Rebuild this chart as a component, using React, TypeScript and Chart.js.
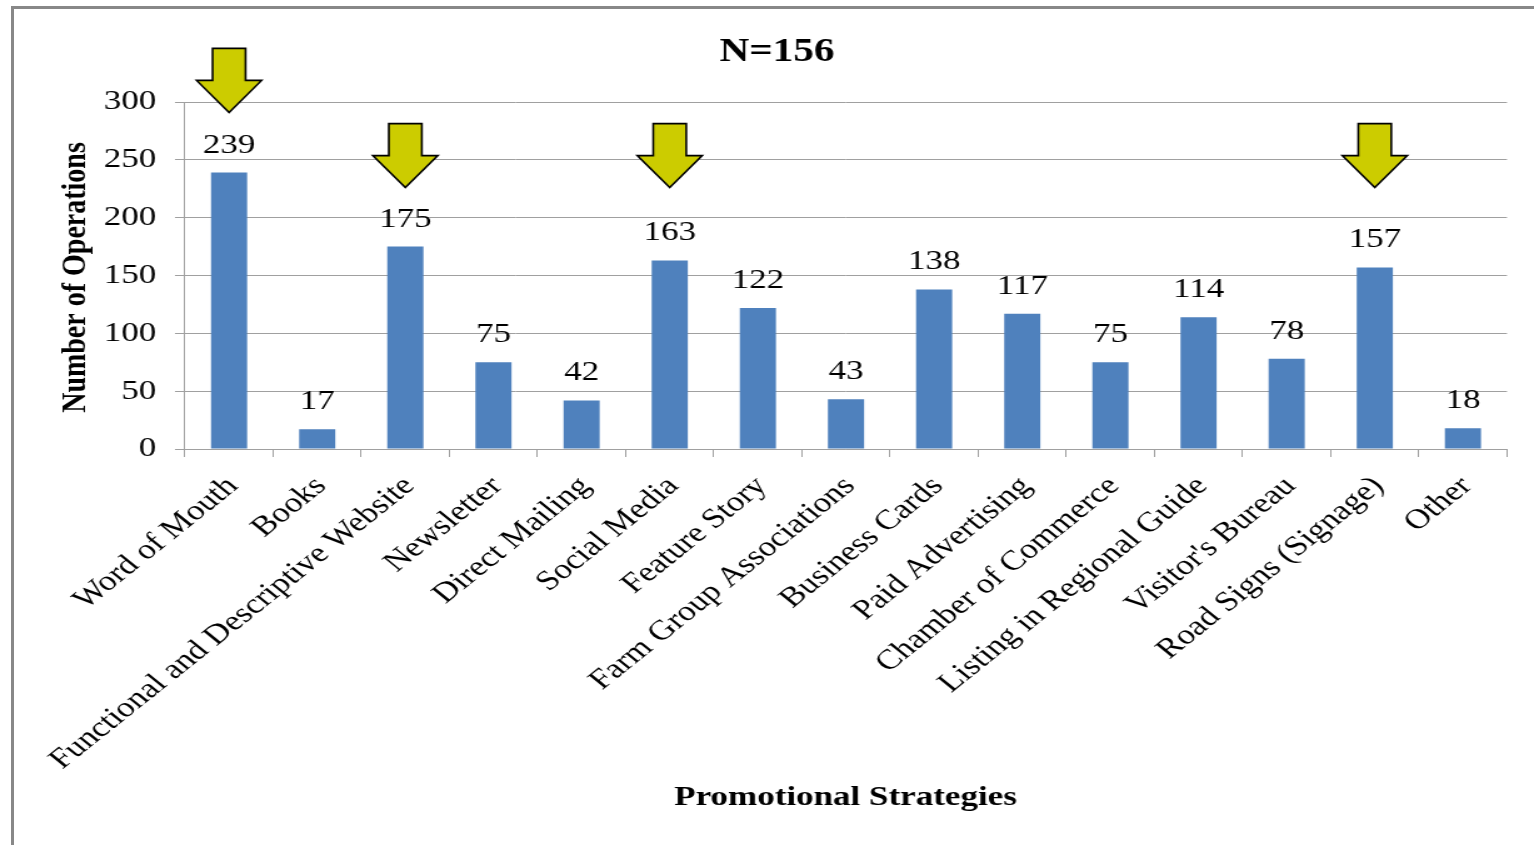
import React, { useEffect, useRef } from 'react';
import { Chart, registerables } from 'chart.js';

Chart.register(...registerables);

const categories = [
  'Word of Mouth',
  'Books',
  'Functional and Descriptive Website',
  'Newsletter',
  'Direct Mailing',
  'Social Media',
  'Feature Story',
  'Farm Group Associations',
  'Business Cards',
  'Paid Advertising',
  'Chamber of Commerce',
  'Listing in Regional Guide',
  "Visitor's Bureau",
  'Road Signs (Signage)',
  'Other',
];
const counts = [239, 17, 175, 75, 42, 163, 122, 43, 138, 117, 75, 114, 78, 157, 18];
const yTicks = [0, 50, 100, 150, 200, 250, 300];
const arrowCategories = ['Word of Mouth', 'Functional and Descriptive Website', 'Social Media', 'Road Signs (Signage)'];
const arrowTipValues = [291, 226, 226, 226];
const chartTitle = 'N=156';
const xTitle = 'Promotional Strategies';
const yTitle = 'Number of Operations';

const W = 1534;
const H = 845;
const CW = 1227;
const SX = W / CW;
const FONT = "'Liberation Serif', 'Times New Roman', Times, serif";
const GRID = '#a0a0a0';

export default function App() {
  const ref = useRef<HTMLCanvasElement>(null);

  useEffect(() => {
    const canvas = ref.current;
    if (!canvas) return;

    const overlay = {
      id: 'overlay',
      afterDatasetsDraw(chart: any) {
        const ctx = chart.ctx;
        const meta = chart.getDatasetMeta(0);
        const ys = chart.scales.y;
        const xs = chart.scales.x;
        ctx.save();
        ctx.fillStyle = '#000';
        ctx.font = `28px ${FONT}`;
        ctx.textAlign = 'center';
        ctx.textBaseline = 'alphabetic';
        meta.data.forEach((bar: any, i: number) => {
          ctx.fillText(String(counts[i]), bar.x, bar.y - 20);
        });
        arrowCategories.forEach((cat, k) => {
          const idx = categories.indexOf(cat);
          const cx = xs.getPixelForValue(idx);
          const tip = ys.getPixelForValue(arrowTipValues[k]);
          const headH = 32, shaftH = 32, headW = 26, shaftW = 13.2;
          ctx.beginPath();
          ctx.moveTo(cx, tip);
          ctx.lineTo(cx - headW, tip - headH);
          ctx.lineTo(cx - shaftW, tip - headH);
          ctx.lineTo(cx - shaftW, tip - headH - shaftH);
          ctx.lineTo(cx + shaftW, tip - headH - shaftH);
          ctx.lineTo(cx + shaftW, tip - headH);
          ctx.lineTo(cx + headW, tip - headH);
          ctx.closePath();
          ctx.fillStyle = '#CCCC00';
          ctx.fill();
          ctx.lineWidth = 1.6;
          ctx.strokeStyle = '#000';
          ctx.lineJoin = 'miter';
          ctx.stroke();
        });
        ctx.restore();
      },
      afterDraw(chart: any) {
        const ctx = chart.ctx;
        ctx.save();
        ctx.fillStyle = '#000';
        ctx.textAlign = 'center';
        ctx.textBaseline = 'alphabetic';
        ctx.font = `bold 33px ${FONT}`;
        ctx.fillText(chartTitle, 777 / SX, 61);
        ctx.font = `bold 28px ${FONT}`;
        ctx.fillText(xTitle, 845.5 / SX, 805);
        ctx.translate(84.5 / SX, 277.5);
        ctx.rotate(-Math.PI / 2);
        ctx.fillText(yTitle, 0, 0);
        ctx.restore();
      },
    };

    const chart = new Chart(canvas, {
      type: 'bar',
      data: {
        labels: categories,
        datasets: [
          {
            data: counts,
            backgroundColor: '#4F81BD',
            borderWidth: 0,
            categoryPercentage: 1,
            barPercentage: 0.41,
          },
        ],
      },
      options: {
        responsive: false,
        animation: false,
        events: [],
        layout: { padding: { left: 0, right: CW - 1507 / SX, top: 102, bottom: 0 } },
        plugins: {
          legend: { display: false },
          tooltip: { enabled: false },
          title: { display: false },
        },
        scales: {
          x: {
            offset: true,
            grid: {
              display: true,
              offset: true,
              drawOnChartArea: false,
              drawTicks: true,
              tickLength: 8,
              color: GRID,
            },
            border: { display: true, color: GRID, width: 1 },
            ticks: {
              font: { family: FONT, size: 28 },
              color: '#000',
              minRotation: 45,
              maxRotation: 45,
              autoSkip: false,
              padding: 13,
              labelOffset: 3,
            },
            afterFit: (s: any) => {
              s.height = H - 449;
            },
          },
          y: {
            min: 0,
            max: 300,
            afterBuildTicks: (s: any) => {
              s.ticks = yTicks.map((v) => ({ value: v }));
            },
            ticks: {
              font: { family: FONT, size: 28 },
              color: '#000',
              padding: 15,
            },
            grid: { color: GRID, tickLength: 8, drawTicks: true },
            border: { display: true, color: GRID, width: 1 },
            afterFit: (s: any) => {
              s.width = 185 / SX;
            },
          },
        },
      },
      plugins: [overlay],
    });

    return () => {
      chart.destroy();
    };
  }, []);

  return (
    <div
      style={{
        position: 'fixed',
        left: 0,
        top: 0,
        width: W,
        height: H,
        overflow: 'hidden',
        background: '#fff',
      }}
    >
      <div
        style={{
          position: 'absolute',
          left: 0,
          top: 0,
          width: CW,
          height: H,
          transform: `scaleX(${SX})`,
          transformOrigin: '0 0',
        }}
      >
        <canvas ref={ref} width={CW} height={H} style={{ display: 'block' }} />
      </div>
      <div
        style={{
          position: 'absolute',
          left: 11,
          top: 6,
          right: 0,
          bottom: 0,
          borderLeft: '3px solid #888',
          borderTop: '3px solid #888',
          pointerEvents: 'none',
        }}
      />
    </div>
  );
}
